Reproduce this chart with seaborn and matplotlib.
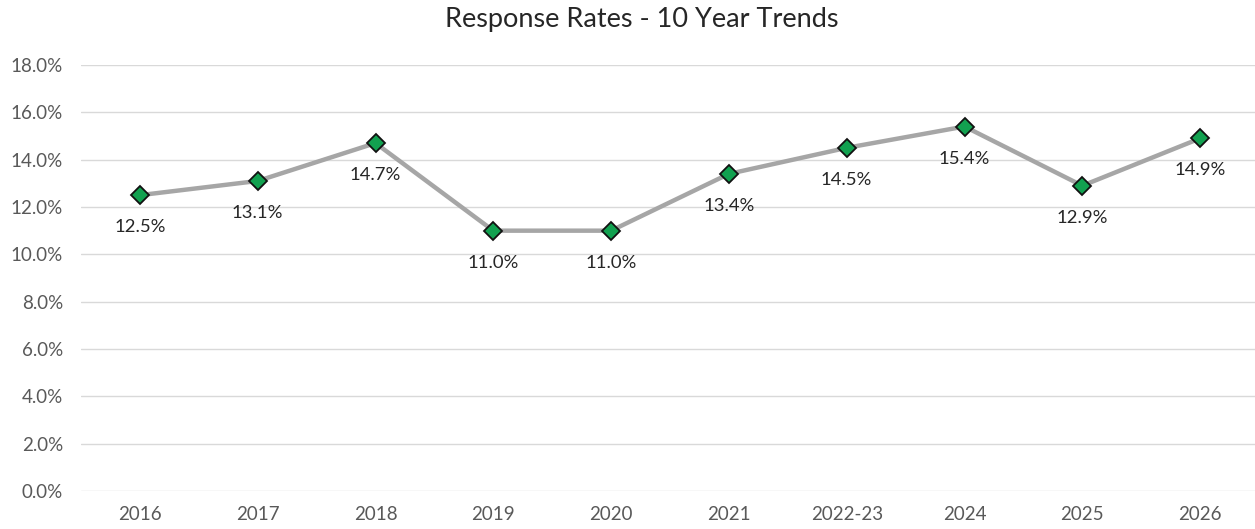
import matplotlib
matplotlib.use("Agg")
import matplotlib.pyplot as plt
import seaborn as sns
import pandas as pd
from matplotlib.ticker import FuncFormatter, MultipleLocator

years = ["2016", "2017", "2018", "2019", "2020", "2021", "2022-23", "2024", "2025", "2026"]
rates = [12.5, 13.1, 14.7, 11.0, 11.0, 13.4, 14.5, 15.4, 12.9, 14.9]

sns.set_theme(style="white")
plt.rcParams["font.family"] = ["Lato", "DejaVu Sans"]

df = pd.DataFrame({"year": years, "rate": rates})

fig = plt.figure(figsize=(12.55, 5.29), dpi=100)
ax = fig.add_axes([81 / 1255, 1 - 491 / 529, (1259 - 81) / 1255, (491 - 65) / 529])

sns.lineplot(data=df, x="year", y="rate", ax=ax, sort=False,
             color="#a6a6a6", linewidth=3.2, marker="D", markersize=9,
             markerfacecolor="#12a150", markeredgecolor="#111111",
             markeredgewidth=1.3)

# value labels sit below each marker
for i, v in enumerate(rates):
    ax.annotate(f"{v:.1f}%", (i, v), xytext=(0, -32), textcoords="offset pixels",
                ha="center", va="center", fontsize=13.3, color="#262626")

ax.set_xlim(-0.5, len(years) - 0.5)
ax.set_ylim(0, 18)
ax.yaxis.set_major_locator(MultipleLocator(2))
ax.yaxis.set_major_formatter(FuncFormatter(lambda v, _: f"{v:.1f}%"))
ax.grid(axis="y", color="#d9d9d9", linewidth=1)
ax.set_axisbelow(True)
for s in ax.spines.values():
    s.set_visible(False)
ax.set_xlabel("")
ax.set_ylabel("")
ax.tick_params(axis="both", length=0, labelsize=13.5, colors="#595959")
ax.tick_params(axis="y", pad=13)
ax.tick_params(axis="x", pad=11)

fig.text(642 / 1255, 1 - 20 / 529, "Response Rates - 10 Year Trends",
         ha="center", va="center", fontsize=19.5, color="#262626")

fig.savefig("out.png", dpi=100, facecolor="white")
